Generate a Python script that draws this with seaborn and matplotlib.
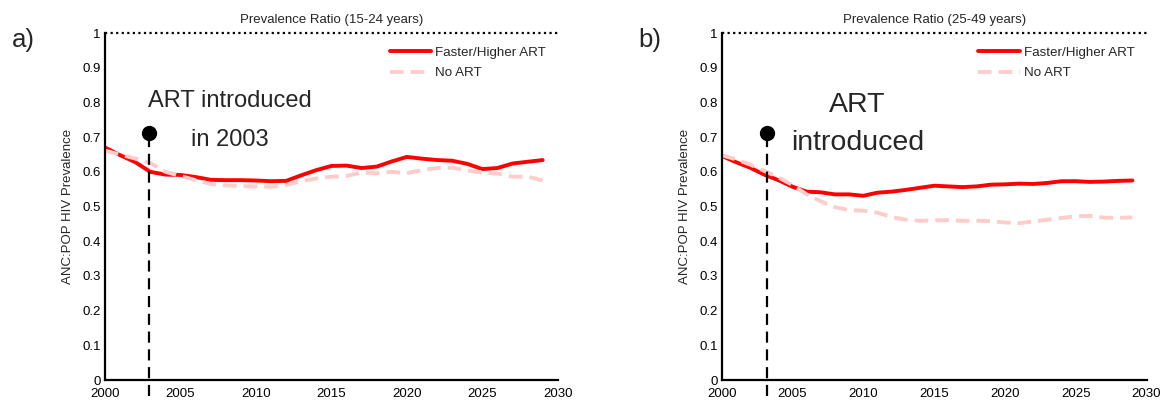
import numpy as np
import pandas as pd
import matplotlib
matplotlib.use("Agg")
import matplotlib.pyplot as plt
import seaborn as sns
from matplotlib.patches import Rectangle

sns.set_style("white")
plt.rcParams['font.family'] = ['Liberation Sans', 'DejaVu Sans']

years = list(range(2000, 2030))
young_faster = [0.670, 0.648, 0.628, 0.600, 0.592, 0.591, 0.585, 0.577, 0.576, 0.576,
                0.575, 0.573, 0.574, 0.590, 0.605, 0.617, 0.618, 0.611, 0.615, 0.630,
                0.643, 0.638, 0.634, 0.632, 0.623, 0.608, 0.611, 0.624, 0.629, 0.634]
young_noart = [0.661, 0.650, 0.638, 0.625, 0.600, 0.588, 0.576, 0.565, 0.561, 0.559,
               0.558, 0.557, 0.562, 0.573, 0.581, 0.586, 0.588, 0.598, 0.596, 0.600,
               0.596, 0.605, 0.611, 0.612, 0.604, 0.598, 0.595, 0.586, 0.586, 0.575]
older_faster = [0.646, 0.628, 0.612, 0.592, 0.576, 0.557, 0.543, 0.541, 0.535, 0.535,
                0.531, 0.540, 0.543, 0.548, 0.554, 0.560, 0.558, 0.556, 0.558, 0.563,
                0.564, 0.566, 0.565, 0.568, 0.573, 0.573, 0.571, 0.572, 0.574, 0.575]
older_noart = [0.648, 0.636, 0.621, 0.603, 0.584, 0.562, 0.535, 0.515, 0.498, 0.490,
               0.488, 0.482, 0.470, 0.462, 0.459, 0.460, 0.461, 0.459, 0.459, 0.458,
               0.454, 0.452, 0.457, 0.462, 0.467, 0.472, 0.473, 0.468, 0.467, 0.469]
titles = ["Prevalence Ratio (15-24 years)", "Prevalence Ratio (25-49 years)"]
panel_labels = ["a)", "b)"]
series_names = ["Faster/Higher ART", "No ART"]
art_year = [2002.9, 2003.2]
art_text = ["ART introduced\nin 2003", "ART\nintroduced\nin 2003"]
xticks = [2000, 2005, 2010, 2015, 2020, 2025, 2030]
yticks = [0, 0.1, 0.2, 0.3, 0.4, 0.5, 0.6, 0.7, 0.8, 0.9, 1]
ytick_labels = ["0", "0.1", "0.2", "0.3", "0.4", "0.5", "0.6", "0.7", "0.8", "0.9", "1"]

fig = plt.figure(figsize=(11.64, 4.03), dpi=100)
ax_a = fig.add_axes([0.0902, 0.057, 0.389, 0.861])
ax_b = fig.add_axes([0.620, 0.057, 0.365, 0.861])

panels = [(ax_a, young_faster, young_noart), (ax_b, older_faster, older_noart)]
label_x = [12 / 1164, 638 / 1164]
for i, (ax, fast, noart) in enumerate(panels):
    df = pd.DataFrame({"year": years * 2,
                       "ratio": fast + noart,
                       "scenario": [series_names[0]] * len(years) + [series_names[1]] * len(years)})
    sns.lineplot(data=df, x="year", y="ratio", hue="scenario", style="scenario",
                 palette={series_names[0]: "#ff0000", series_names[1]: "#ffcccc"},
                 dashes={series_names[0]: "", series_names[1]: (3.5, 1.8)},
                 linewidth=2.8, ax=ax, legend=True)
    ax.set_xlim(2000, 2030)
    ax.set_ylim(0, 1)
    ax.set_xticks(xticks)
    ax.set_xticklabels([str(t) for t in xticks], fontsize=9.5)
    ax.set_yticks(yticks)
    ax.set_yticklabels(ytick_labels, fontsize=9.5)
    ax.tick_params(direction="in", length=3.5, width=1.2, colors="black")
    ax.tick_params(axis="x", pad=6)
    ax.tick_params(axis="y", pad=3)
    ax.set_xlabel("")
    ax.set_ylabel("ANC:POP HIV Prevalence", fontsize=9.5, labelpad=6)
    ax.set_title(titles[i], fontsize=9.5, pad=7)
    for s in ["top", "right"]:
        ax.spines[s].set_visible(False)
    for s in ["left", "bottom"]:
        ax.spines[s].set_linewidth(1.6)
        ax.spines[s].set_color("black")
    ax.axhline(1, color="black", linestyle=(0, (1, 1.5)), linewidth=1.6, clip_on=False)
    # ART introduction marker
    ax.plot([art_year[i], art_year[i]], [-0.045, 0.713], color="black",
            linestyle=(0, (5, 3)), linewidth=1.6, clip_on=False)
    ax.plot([art_year[i]], [0.713], marker="o", color="black", markersize=10, clip_on=False)
    ax.legend(loc="upper right", frameon=False, fontsize=9.6, handlelength=3.1,
              handletextpad=0.3, labelspacing=0.6, bbox_to_anchor=(1.0, 0.995))
    fig.text(label_x[i], 1 - 40 / 403, panel_labels[i], fontsize=18.5,
             ha="left", va="center")

ax_a.text(2008.3, 0.748, art_text[0], ha="center", va="center", fontsize=17,
          linespacing=1.95)
t = ax_b.text(2009.6, 0.682, art_text[1], ha="center", va="center", fontsize=20.5,
              linespacing=1.6, clip_on=True)
clip = Rectangle((2000, 0.645), 30, 0.45, transform=ax_b.transData)
t.set_clip_path(clip)

fig.savefig("out.png", dpi=100)
